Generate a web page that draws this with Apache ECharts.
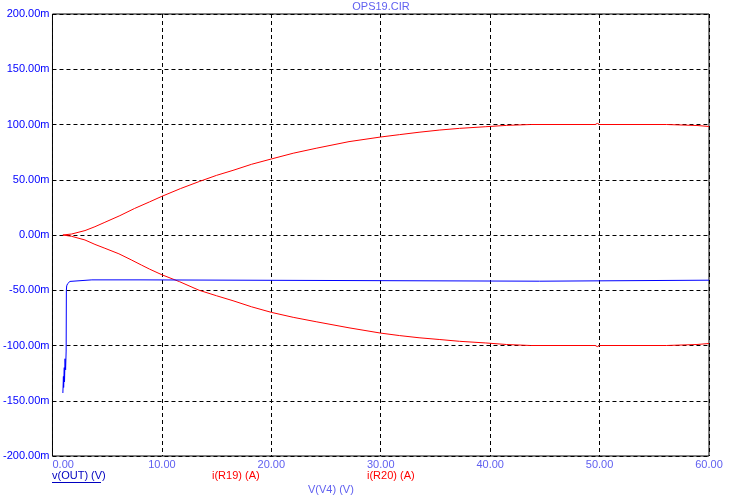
<!DOCTYPE html>
<html><head><meta charset="utf-8">
<script src="https://cdn.jsdelivr.net/npm/echarts@6/dist/echarts.min.js"></script>
<style>html,body{margin:0;padding:0;background:#fff}#c{width:735px;height:501px}</style>
</head><body><div id="c"></div>
<script>
// x: V(V4) in volts; y values in milli-units (m)
const iR19 = [[0.95,0],[1.0,0],[1.75,0.9],[2.97,4],[3.88,7.5],[4.79,11.5],[6.16,17.5],[7.5,24],[8.88,30],[10,35],[11.7,42],[13.44,48.5],[15,54],[16.5,58.5],[18.2,64],[20,68.8],[22,74],[24.1,78.5],[27.1,84.5],[30,88.7],[31.7,90.8],[33.5,93],[35.4,95],[37.2,96.5],[39.6,98],[41.5,99.2],[43.7,100],[49.6,100],[49.8,101],[50,100],[56.1,100],[56.1,99.1],[58.9,99.1],[58.9,98.2],[60,98.2]];
const iR20 = [[0.95,0],[1.0,0],[1.75,-1.2],[2.97,-4.5],[3.88,-8.5],[4.79,-12],[6.07,-17],[7.2,-22.5],[8.15,-27.3],[8.88,-30.9],[10,-36],[11.6,-42.2],[13.4,-50],[15,-55],[16.5,-59.5],[18.2,-65],[20,-70],[22,-74.5],[24.1,-78.5],[27.1,-84],[30,-88.8],[31.7,-91],[33.5,-93],[35.4,-94.6],[37.2,-96.2],[39.6,-97.7],[41.5,-99.1],[43.7,-100],[49.6,-100],[49.8,-101],[50,-100],[56.1,-100],[56.1,-99.1],[58.9,-99.1],[58.9,-98.2],[60,-98.2]];
const vOUT = [[0.95,-143],[1.0,-128],[1.02,-138],[1.08,-120],[1.1,-133],[1.15,-112],[1.2,-122],[1.25,-105],[1.27,-50],[1.3,-46],[1.39,-44],[1.6,-42],[1.75,-41.5],[3.6,-40.6],[8,-40.6],[8.1,-41.8],[44.5,-41.8],[44.6,-40.9],[60,-40.9]];
const xTicks = {min:0, max:60, interval:10};
const yTicks = {min:-200, max:200, interval:50};
const titleText = 'OPS19.CIR';
const legendNames = ['v(OUT) (V)','i(R19) (A)','i(R20) (A)','V(V4) (V)'];

const chart = echarts.init(document.getElementById('c'), null, {renderer:'canvas'});
const FONT = 'Liberation Sans, Arial, sans-serif';
const grid = {left:52, right:26, top:14, bottom:45};
const dash = {type:[4,3], color:'#000', width:1};
chart.setOption({
  animation:false,
  backgroundColor:'#fff',
  title:{text:titleText, left:381, top:1, padding:0, textAlign:'center',
    textStyle:{color:'#6060F0', fontSize:11, fontWeight:'normal', fontFamily:FONT}},
  grid:Object.assign({show:true, borderColor:'#000', borderWidth:1, backgroundColor:'transparent'}, grid),
  xAxis:{type:'value', min:xTicks.min, max:xTicks.max, interval:xTicks.interval,
    axisLine:{show:false}, axisTick:{show:false},
    splitLine:{show:true, lineStyle:dash},
    axisLabel:{color:'#6060F0', fontSize:11, fontFamily:FONT, margin:3, alignMinLabel:'left',
      formatter:v=>v.toFixed(2)}},
  yAxis:{type:'value', min:yTicks.min, max:yTicks.max, interval:yTicks.interval,
    axisLine:{show:false}, axisTick:{show:false},
    splitLine:{show:true, lineStyle:dash},
    axisLabel:{color:'#0000FF', fontSize:11, fontFamily:FONT, margin:3,
      formatter:v=>v.toFixed(2)+'m'}},
  series:[
    {name:legendNames[1], type:'line', data:iR19, showSymbol:false, lineStyle:{color:'#FF0000', width:1}, z:3},
    {name:legendNames[2], type:'line', data:iR20, showSymbol:false, lineStyle:{color:'#FF0000', width:1}, z:3},
    {name:legendNames[0], type:'line', data:vOUT, showSymbol:false, lineStyle:{color:'#0000FF', width:1}, z:4}
  ],
  graphic:[
    {type:'text', left:52, top:470, style:{text:legendNames[0], fill:'#0000C0', font:'11px '+FONT}},
    {type:'line', shape:{x1:52, y1:482.5, x2:101, y2:482.5}, style:{stroke:'#0000C0', lineWidth:1}},
    {type:'text', left:212, top:470, style:{text:legendNames[1], fill:'#FF0000', font:'11px '+FONT}},
    {type:'text', left:367, top:470, style:{text:legendNames[2], fill:'#FF0000', font:'11px '+FONT}},
    {type:'text', left:308, top:484, style:{text:legendNames[3], fill:'#6060F0', font:'11px '+FONT}}
  ]
});
</script></body></html>
